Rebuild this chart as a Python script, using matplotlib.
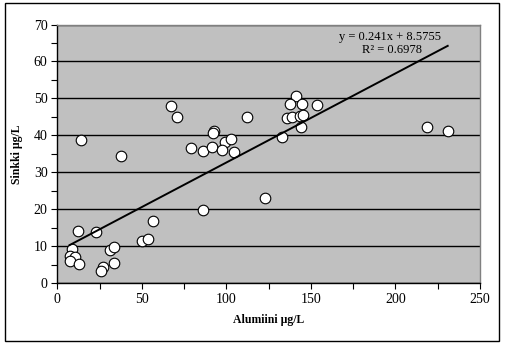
import matplotlib

matplotlib.use("Agg")
import matplotlib.pyplot as plt
from matplotlib.patches import Rectangle
import numpy as np

# aluminium (x) vs zinc (y)
alumiini = [8.6, 7.3, 10.3, 7.5, 12.8, 12.0, 23.0, 31.1, 33.3, 27.2, 26.0, 33.4,
            50.2, 53.4, 56.4, 14.0, 37.6, 67.1, 71.0, 112.3, 92.8, 92.2, 99.3,
            102.8, 78.8, 85.9, 91.6, 97.3, 104.8, 132.8, 122.6, 85.9, 141.1,
            137.8, 144.8, 153.8, 135.6, 139.0, 143.4, 145.4, 144.2, 218.7, 230.9]
sinkki = [9.4, 7.4, 7.2, 5.9, 5.3, 14.2, 14.0, 9.1, 9.9, 4.3, 3.4, 5.5,
          11.5, 11.9, 16.8, 38.7, 34.5, 48.0, 45.1, 44.9, 41.3, 40.6, 38.3,
          39.0, 36.6, 35.9, 37.0, 36.1, 35.4, 39.6, 23.2, 19.9, 50.7,
          48.6, 48.5, 48.1, 44.8, 45.0, 45.3, 45.4, 42.4, 42.4, 41.3]

# linear trendline as printed on the chart
slope = 0.241
intercept = 8.5755
r_squared = 0.6978

serif = "Liberation Serif"
W, H = 505, 347

fig = plt.figure(figsize=(W / 100, H / 100), dpi=100)
fig.patches.append(Rectangle((4.5 / W, 1 - 341 / H), 494.5 / W, 338 / H,
                             transform=fig.transFigure, fill=False,
                             edgecolor="black", linewidth=1.0))

ax = fig.add_axes([57.3 / W, 63.7 / H, 422.7 / W, 258.8 / H])
ax.set_facecolor("#C0C0C0")
ax.set_xlim(0, 250)
ax.set_ylim(0, 70)

ax.set_yticks(np.arange(0, 71, 10))
ax.set_yticks(np.arange(0, 71, 5), minor=True)
ax.set_xticks(np.arange(0, 251, 50))
ax.set_xticks(np.arange(0, 251, 25), minor=True)
ax.grid(axis="y", which="major", color="black", linewidth=1.0)
ax.set_axisbelow(True)
ax.tick_params(which="both", direction="out", length=4, width=0.8, color="black",
               labelsize=10, pad=3)
for lbl in ax.get_xticklabels() + ax.get_yticklabels():
    lbl.set_fontfamily(serif)

for side in ("top", "right"):
    ax.spines[side].set_color("#808080")
for side in ("left", "bottom"):
    ax.spines[side].set_color("black")
for sp in ax.spines.values():
    sp.set_linewidth(1.0)

ax.scatter(alumiini, sinkki, s=58, facecolor="white", edgecolor="black",
           linewidth=0.8, zorder=3)

xs = np.array([min(alumiini), max(alumiini)])
ax.plot(xs, slope * xs + intercept, color="black", linewidth=1.4, zorder=4)

fig.text(390 / W, 1 - 36.7 / H, f"y = {slope}x + {intercept}", fontsize=9,
         family=serif, ha="center", va="center")
fig.text(392 / W, 1 - 50 / H, f"R² = {r_squared}", fontsize=9,
         family=serif, ha="center", va="center")

ax.set_xlabel("Alumiini µg/L", family=serif, fontweight="bold", fontsize=8.5, labelpad=6)
ax.set_ylabel("Sinkki µg/L", family=serif, fontweight="bold", fontsize=8.5, labelpad=8)

fig.savefig("out.png", dpi=100)
